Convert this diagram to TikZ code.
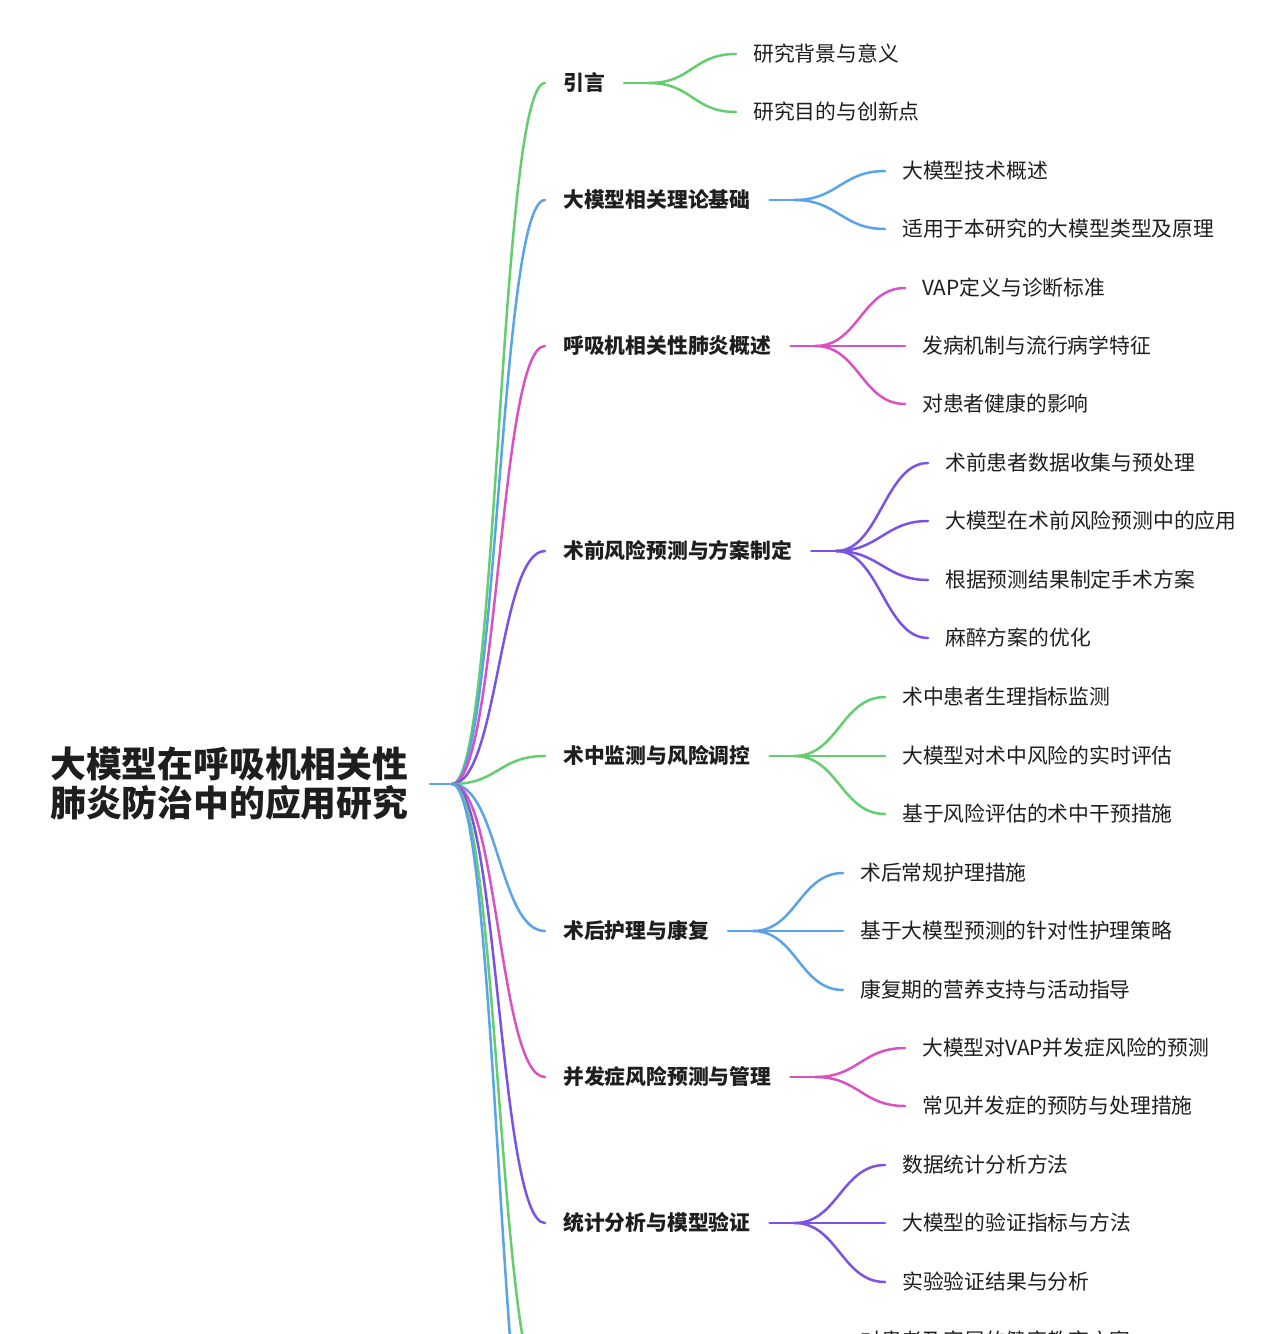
\documentclass[tikz,border=0pt]{standalone}
\usepackage{fontspec}
\setmainfont{Noto Sans CJK SC}
\newfontfamily\cjk{Noto Sans CJK SC}
\definecolor{cgreen}{RGB}{99,205,112}
\definecolor{cblue}{RGB}{90,163,232}
\definecolor{cpink}{RGB}{216,82,192}
\definecolor{cpurple}{RGB}{122,82,230}
\definecolor{ink}{RGB}{30,30,30}
\newcommand\mmfork[3]{%
  \coordinate (#1-o) at ([xshift=19pt]#1.east);
  \coordinate (#1-f) at ([xshift=44pt]#1.east);
  \draw[lk,#2] (#1-o) -- (#1-f);
  \foreach \cc in {#3} {\draw[lk,#2] (#1-f) .. controls +(43,0) and +(-43,0) .. ([xshift=-17pt]\cc.west);}
}
\begin{document}
\begin{tikzpicture}[x=1pt,y=-1pt,
  lk/.style={line width=2.5pt,line cap=round},
  lvone/.style={font=\cjk\bfseries\fontsize{20.8}{24}\selectfont,inner sep=0pt,anchor=west,text height=18.3pt,text depth=2.5pt,text=ink},
  lvtwo/.style={font=\cjk\fontsize{20.8}{24}\selectfont,inner sep=0pt,anchor=west,text height=18.3pt,text depth=2.5pt,text=ink},
  rootn/.style={font=\cjk\bfseries\fontsize{35.8}{39}\selectfont,inner sep=0pt,anchor=west,align=left,text=ink}]
\fill[white] (0,0) rectangle (1280,1334);
\useasboundingbox (0,0) rectangle (1280,1334);

\node[rootn] (root) at (50,784) {大模型在呼吸机相关性\\肺炎防治中的应用研究};

% level one
\node[lvone] (L1) at (563,83) {引言};
\node[lvone] (L2) at (563,200) {大模型相关理论基础};
\node[lvone] (L3) at (563,346) {呼吸机相关性肺炎概述};
\node[lvone] (L4) at (563,551) {术前风险预测与方案制定};
\node[lvone] (L5) at (563,756) {术中监测与风险调控};
\node[lvone] (L6) at (563,931) {术后护理与康复};
\node[lvone] (L7) at (563,1077) {并发症风险预测与管理};
\node[lvone] (L8) at (563,1223) {统计分析与模型验证};
\foreach \n in {L1,L2,L3,L4,L5,L6,L7,L8}
  \coordinate (\n-in) at ([xshift=-18pt]\n.west);
\coordinate (L9-in) at (545,1398);
\coordinate (L10-in) at (545,1543);

% level two
\node[lvtwo] (a1) at (753,54) {研究背景与意义};
\node[lvtwo] (a2) at (753,112) {研究目的与创新点};
\node[lvtwo] (b1) at (902,171) {大模型技术概述};
\node[lvtwo] (b2) at (902,229) {适用于本研究的大模型类型及原理};
\node[lvtwo] (c1) at (922,288) {VAP定义与诊断标准};
\node[lvtwo] (c2) at (922,346) {发病机制与流行病学特征};
\node[lvtwo] (c3) at (922,404) {对患者健康的影响};
\node[lvtwo] (d1) at (945,463) {术前患者数据收集与预处理};
\node[lvtwo] (d2) at (945,521) {大模型在术前风险预测中的应用};
\node[lvtwo] (d3) at (945,580) {根据预测结果制定手术方案};
\node[lvtwo] (d4) at (945,638) {麻醉方案的优化};
\node[lvtwo] (e1) at (902,697) {术中患者生理指标监测};
\node[lvtwo] (e2) at (902,756) {大模型对术中风险的实时评估};
\node[lvtwo] (e3) at (902,814) {基于风险评估的术中干预措施};
\node[lvtwo] (f1) at (860,873) {术后常规护理措施};
\node[lvtwo] (f2) at (860,931) {基于大模型预测的针对性护理策略};
\node[lvtwo] (f3) at (860,990) {康复期的营养支持与活动指导};
\node[lvtwo] (g1) at (922,1048) {大模型对VAP并发症风险的预测};
\node[lvtwo] (g2) at (922,1106) {常见并发症的预防与处理措施};
\node[lvtwo] (h1) at (902,1165) {数据统计分析方法};
\node[lvtwo] (h2) at (902,1223) {大模型的验证指标与方法};
\node[lvtwo] (h3) at (902,1282) {实验验证结果与分析};
\node[lvtwo] (i1) at (860,1341) {对患者及家属的健康教育方案};

% root connectors
\coordinate (r0) at (430,784);
\coordinate (r1) at (452,784);
\foreach \n/\col in {L1/cgreen,L2/cblue,L3/cpink,L4/cpurple,L5/cgreen,L6/cblue,L7/cpink,L8/cpurple,L9/cgreen,L10/cblue}
  \draw[lk,\col] (r1) .. controls +(46,0) and +(-46,0) .. (\n-in);
\draw[lk,cblue] (r0) -- (r1);

% child connectors
\mmfork{L1}{cgreen}{a1,a2}
\mmfork{L2}{cblue}{b1,b2}
\mmfork{L3}{cpink}{c1,c2,c3}
\mmfork{L4}{cpurple}{d1,d2,d3,d4}
\mmfork{L5}{cgreen}{e1,e2,e3}
\mmfork{L6}{cblue}{f1,f2,f3}
\mmfork{L7}{cpink}{g1,g2}
\mmfork{L8}{cpurple}{h1,h2,h3}
\end{tikzpicture}
\end{document}
